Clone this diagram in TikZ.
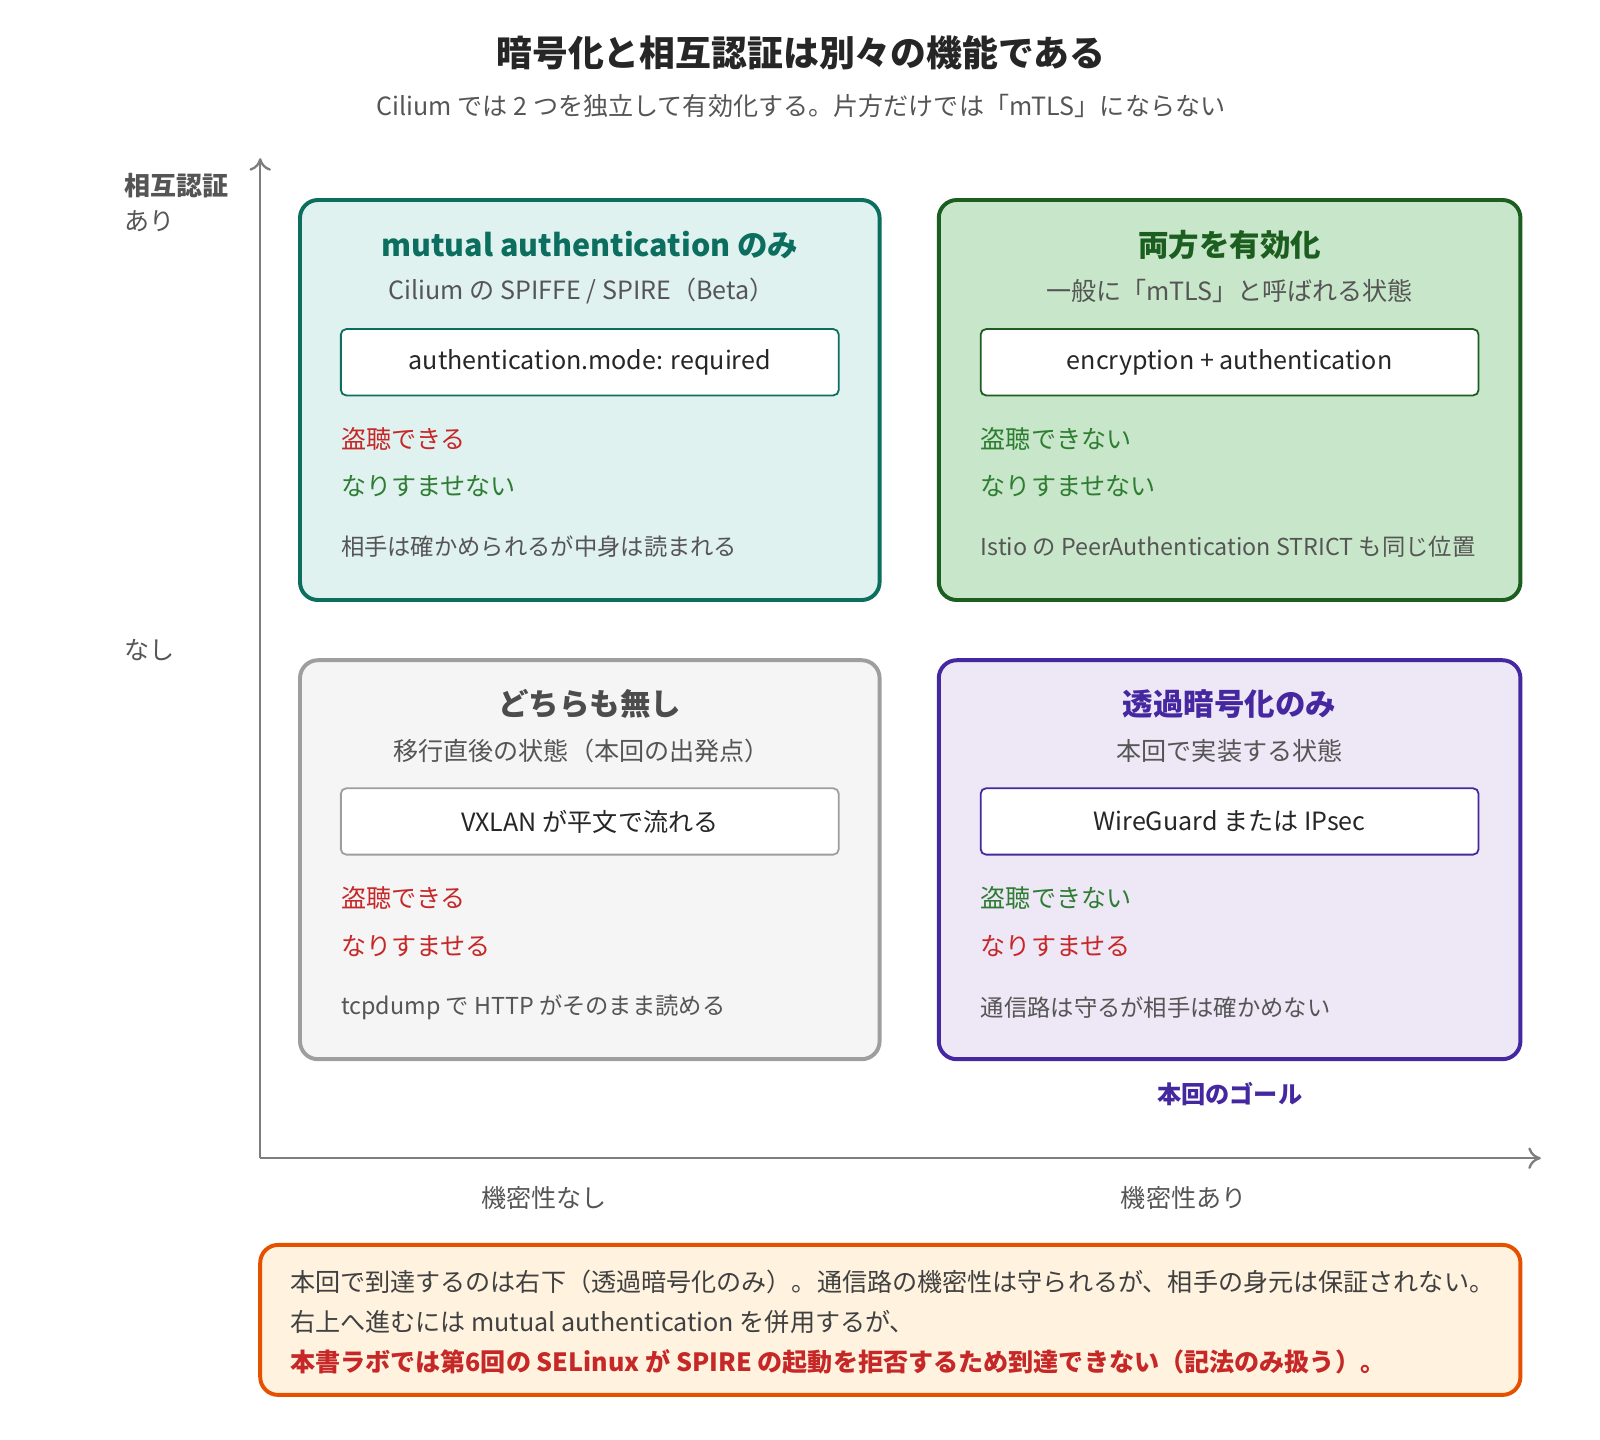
\documentclass[tikz,border=0pt]{standalone}
\usepackage{fontspec}
\setmainfont{Noto Sans CJK JP}
\usetikzlibrary{positioning, arrows.meta}
\definecolor{tealB}{HTML}{0B6E5F}\definecolor{tealF}{HTML}{E0F2F0}
\definecolor{greenB}{HTML}{1B5E20}\definecolor{greenF}{HTML}{C8E6C9}
\definecolor{grayB}{HTML}{9E9E9E}\definecolor{grayF}{HTML}{F5F5F5}
\definecolor{purpB}{HTML}{4527A0}\definecolor{purpF}{HTML}{EDE7F6}
\definecolor{orgB}{HTML}{E65100}\definecolor{orgF}{HTML}{FFF3E0}
\definecolor{bad}{HTML}{C62828}\definecolor{good}{HTML}{2E7D32}
\definecolor{txt}{HTML}{555555}
\tikzset{
  quad/.style={rounded corners=10pt, line width=2.2pt},
  inner/.style={draw, fill=white, rounded corners=3pt, line width=1pt, minimum width=9.76cm, minimum height=1.3cm, font=\fontsize{14}{17}\selectfont, text=black!85},
  head/.style={font=\fontsize{17}{20}\selectfont\bfseries},
  sub/.style={font=\fontsize{14}{17}\selectfont, text=txt},
  item/.style={anchor=west, font=\fontsize{14}{17}\selectfont},
  note/.style={anchor=west, font=\fontsize{13}{16}\selectfont, text=txt},
  axlbl/.style={font=\fontsize{14}{17}\selectfont, text=txt},
  axis/.style={grayB!80!black, line width=1.3pt, -{To[length=7pt,width=12pt]}},
}
\begin{document}
\begin{tikzpicture}[x=0.02cm, y=-0.02cm]
\useasboundingbox (0,0) rectangle (1568,1411);
% title
\node[font=\fontsize{20}{24}\selectfont\bfseries, text=black!85] (title) at (785,52) {暗号化と相互認証は別々の機能である};
\node[sub] (subtitle) at (785,104) {Cilium では 2 つを独立して有効化する。片方だけでは「mTLS」にならない};
% axes
\coordinate (origin) at (255,1135);
\coordinate (ytop) at (255,155);
\coordinate (xend) at (1510,1135);
\draw[axis] (origin) -- (ytop);
\draw[axis] (origin) -- (xend);
\node[anchor=west, font=\fontsize{14.5}{17}\selectfont\bfseries, text=txt] (yes) at (116,182) {相互認証};
\node[anchor=west, axlbl] (yes2) at (116,217) {あり};
\node[anchor=west, axlbl] (no) at (116,637) {なし};
\node[axlbl] (xno) at (533,1174) {機密性なし};
\node[axlbl] (xyes) at (1160,1174) {機密性あり};
% top left
\draw[quad, draw=tealB, fill=tealF] (294,196) rectangle (862,588);
\node[head, text=tealB] (tlh) at (578,240) {mutual authentication のみ};
\node[sub] (tls) at (570,285) {Cilium の SPIFFE / SPIRE（Beta）};
\node[inner, draw=tealB] (tlc) at (578,355) {authentication.mode: required};
\node[item, text=bad] (tl1) at (328,430) {盗聴できる};
\node[item, text=good] (tl2) at (328,476) {なりすませない};
\node[note] (tl3) at (328,536) {相手は確かめられるが中身は読まれる};
% top right
\draw[quad, draw=greenB, fill=greenF] (920,196) rectangle (1490,588);
\node[head, text=greenB] (trh) at (1205,240) {両方を有効化};
\node[sub] (trs) at (1205,285) {一般に「mTLS」と呼ばれる状態};
\node[inner, draw=greenB] (trc) at (1205,355) {encryption + authentication};
\node[item, text=good] (tr1) at (955,430) {盗聴できない};
\node[item, text=good] (tr2) at (955,476) {なりすませない};
\node[note] (tr3) at (955,536) {Istio の PeerAuthentication STRICT も同じ位置};
% bottom left
\draw[quad, draw=grayB, fill=grayF] (294,647) rectangle (862,1038);
\node[head, text=black!70] (blh) at (578,690) {どちらも無し};
\node[sub] (bls) at (570,736) {移行直後の状態（本回の出発点）};
\node[inner, draw=grayB] (blc) at (578,805) {VXLAN が平文で流れる};
\node[item, text=bad] (bl1) at (328,880) {盗聴できる};
\node[item, text=bad] (bl2) at (328,927) {なりすませる};
\node[note] (bl3) at (328,987) {tcpdump で HTTP がそのまま読める};
% bottom right
\draw[quad, draw=purpB, fill=purpF] (920,647) rectangle (1490,1038);
\node[head, text=purpB] (brh) at (1205,690) {透過暗号化のみ};
\node[sub] (brs) at (1205,736) {本回で実装する状態};
\node[inner, draw=purpB] (brc) at (1205,805) {WireGuard または IPsec};
\node[item, text=good] (br1) at (955,880) {盗聴できない};
\node[item, text=bad] (br2) at (955,927) {なりすませる};
\node[note] (br3) at (955,987) {通信路は守るが相手は確かめない};
\node[font=\fontsize{13.5}{16}\selectfont\bfseries, text=purpB] (goal) at (1205,1072) {本回のゴール};
% footer
\draw[quad, draw=orgB, fill=orgF] (255,1220) rectangle (1490,1367);
\node[item, text=black!75] (f1) at (278,1256) {本回で到達するのは右下（透過暗号化のみ）。通信路の機密性は守られるが、相手の身元は保証されない。};
\node[item, text=black!75] (f2) at (278,1296) {右上へ進むには mutual authentication を併用するが、};
\node[item, text=bad, font=\fontsize{14}{17}\selectfont\bfseries] (f3) at (278,1335) {本書ラボでは第6回の SELinux が SPIRE の起動を拒否するため到達できない（記法のみ扱う）。};
\end{tikzpicture}
\end{document}
